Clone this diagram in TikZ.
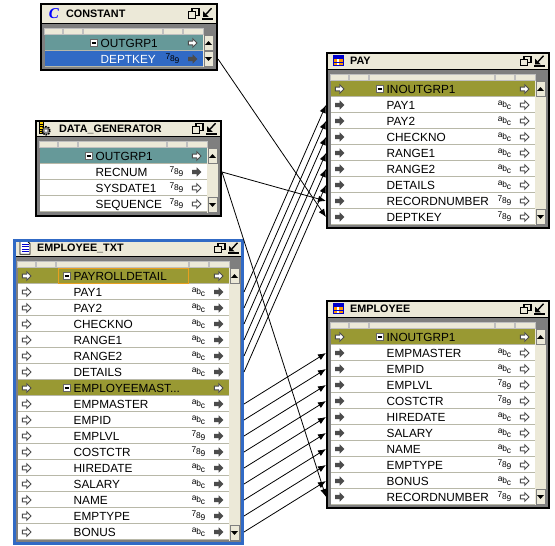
\documentclass[tikz,border=0pt]{standalone}
\usepackage{fontspec}
\setmainfont{Liberation Sans}
\newfontfamily\iconfont{Liberation Serif}
\usetikzlibrary{arrows.meta}
\definecolor{barbeige}{HTML}{ECE9D8}
\definecolor{framegrey}{HTML}{7F7F7F}
\definecolor{sepgrey}{HTML}{B8B8A8}
\definecolor{selblue}{HTML}{316AC5}
\definecolor{focusamber}{HTML}{E8A020}
\definecolor{rowplain}{HTML}{FFFFFF}
\definecolor{rowteal}{HTML}{669999}
\definecolor{rowolive}{HTML}{999933}
\definecolor{rowsel}{HTML}{316AC5}
\colorlet{txtplain}{black}
\colorlet{txtteal}{black}
\colorlet{txtolive}{black}
\colorlet{txtsel}{white}
\newcommand{\tagno}{}
\newcommand{\tagstr}{\raisebox{2pt}{a}\kern-.2pt b\kern-.1pt\raisebox{-2pt}{c}}
\newcommand{\tagnum}{\raisebox{2pt}{7}\kern-.2pt 8\kern-.1pt\raisebox{-2pt}{9}}
\newcommand{\empgroup}{EMPLOYEEMAST...}
\newcommand{\titlepad}{24}
\newcommand{\markglyph}{
    \filldraw[fill=white, draw=black!60, line width=.7pt] (-3.5,-3.5) rectangle (3.5,3.5);
    \draw[line width=1.1pt] (-2,0) -- (2,0);}
\tikzset{
  panelbox/.style={fill=framegrey, inner sep=0pt, outer sep=0pt},
  rowbox/.style={inner sep=0pt, outer sep=0pt, minimum height=16pt},
  rowline/.style={draw=sepgrey, line width=1pt},
  rowtext/.style={anchor=base west, inner sep=0pt, font=\fontsize{11.8}{12}\selectfont},
  titletext/.style={anchor=base west, inner sep=0pt, font=\bfseries\fontsize{10.8}{12}\selectfont},
  typetag/.style={inner sep=0pt, font=\fontsize{8.4}{9}\selectfont},
  scrollbtn/.style={fill=barbeige, draw=framegrey, line width=.6pt},
  link/.style={-{Latex[length=8pt,width=6.5pt]}, line width=.8pt},
  focusbox/.style={draw=focusamber, line width=1pt, inner sep=0pt, minimum width=130pt, minimum height=15pt},
  pics/arrowno/.style={code={}},
  pics/arrowopen/.style={code={
    \filldraw[fill=white, draw=black!70, line width=.9pt] (-4.2,-1.9) -- (.2,-1.9) -- (.2,-4.4) -- (4.6,0) -- (.2,4.4) -- (.2,1.9) -- (-4.2,1.9) -- cycle;}},
  pics/arrowsolid/.style={code={
    \fill[black!70] (-4.4,-2.2) -- (.2,-2.2) -- (.2,-4.6) -- (4.8,0) -- (.2,4.6) -- (.2,2.2) -- (-4.4,2.2) -- cycle;}},
  pics/markplain/.style={code={}},
  pics/marksel/.style={code={}},
  pics/markolive/.style={code={\markglyph}},
  pics/markteal/.style={code={\markglyph}},
  pics/scrollup/.style={code={\fill (-3.5,1.8) -- (3.5,1.8) -- (0,-1.8) -- cycle;}},
  pics/scrolldown/.style={code={\fill (-3.5,-1.8) -- (3.5,-1.8) -- (0,1.8) -- cycle;}},
  pics/winbuttons/.style={code={
    \draw[line width=1.1pt] (-26,-4.5) rectangle (-19,2);
    \filldraw[fill=barbeige, line width=1.1pt] (-29.5,-1.5) rectangle (-22.5,5);
    \draw[line width=1.6pt] (-16,5.5) -- (-5.5,5.5);
    \draw[line width=1.4pt] (-6.5,-5) -- (-12,1);
    \fill (-15,3.5) -- (-15,-2) -- (-9.5,3.5) -- cycle;}},
  pics/iconconst/.style={code={
    \node[inner sep=0pt, text=blue, font=\iconfont\itshape\bfseries\fontsize{15}{15}\selectfont] (constglyph) at (2,0) {C};}},
  pics/icontable/.style={code={
    \fill[blue!80!black] (-5.5,-5.5) rectangle (5.5,5.5);
    \fill[orange!80!yellow] (-4.5,-2) rectangle (4.5,4.5);
    \fill[white] (-1,-2) rectangle (1,4.5);
    \draw[blue!80!black, line width=.6pt] (-4.5,1.2) -- (4.5,1.2);}},
  pics/icondoc/.style={code={
    \filldraw[fill=white, draw=black, line width=.8pt] (-5,-7) -- (2,-7) -- (5,-4) -- (5,6.5) -- (-5,6.5) -- cycle;
    \foreach \ly in {-3.5,-1,1.5,4} {\draw[blue!80!black, line width=1pt] (-3.5,\ly) -- (3.5,\ly);}}},
  pics/icongen/.style={code={
    \filldraw[fill=yellow!70!orange, draw=black, line width=.7pt] (-8,-7) rectangle (-4,5);
    \foreach \ly in {-4.5,-2,.5,3} {\draw[line width=.5pt] (-8,\ly) -- (-4,\ly);}
    \filldraw[fill=black!45, draw=black, line width=1.6pt, dash pattern=on 1.5pt off 1pt] (-1,2.5) circle (4);
    \fill[white] (-1,2.5) circle (1.3);}},
}
% panel: id, title, icon, x1, y1, x2, y2, top of rows, rows
\newcommand{\panel}[9]{
  \pgfmathsetmacro\pw{#6-#4}
  \pgfmathsetmacro\ph{#7-#5}
  \pgfmathsetmacro\xl{#4+4.5}
  \pgfmathsetmacro\xr{#6-15}
  \pgfmathsetmacro\xm{(#4+#6)/2}
  \pgfmathsetmacro\ty{#8-11.5}
  \pgfmathsetmacro\cw{\xr-\xl}
  \pgfmathsetmacro\cwa{\cw-41}
  \pgfmathsetmacro\cwb{\cw-40}
  \pgfmathsetmacro\cwc{\cw-21}
  \pgfmathsetmacro\cwd{\cw-20}
  \node[panelbox, minimum width=\pw pt, minimum height=\ph pt] (#1) at (\xm,{(#5+#7)/2}) {};
  \foreach \txt/\kind/\typ/\lft/\rgt [count=\rownum] in {#9} {
    \pgfmathsetmacro\yt{#8+16*(\rownum-1)}
    \pgfmathsetmacro\yc{\yt+8}
    \node[rowbox, fill=row\kind, minimum width=\pw pt] (#1-\rownum) at (\xm,\yc) {};
    \draw[rowline] (\xl,\yt+15.5) -- (\xr,\yt+15.5);
    \node[rowtext, text=txt\kind] (#1-\rownum-name) at (\xl+56,\yc+4.2) {\txt};
    \node[typetag] (#1-\rownum-type) at (\xr-30.5,\yc) {\csname tag\typ\endcsname};
    \pic at (\xl+9,\yc) {arrow\lft};
    \pic at (\xr-10.5,\yc) {arrow\rgt};
    \pic at (\xl+49,\yc) {mark\kind};
  }
  \fill[barbeige] (\xr,#8) rectangle (#6-4,#7-4);
  \draw[scrollbtn] (\xr+1,#8+.5) rectangle (#6-4.5,#8+15.5);
  \draw[scrollbtn] (\xr+1,#7-19.5) rectangle (#6-4.5,#7-4.5);
  \pic at ({(\xr+#6-4)/2},#8+8) {scrollup};
  \pic at ({(\xr+#6-4)/2},#7-12) {scrolldown};
  \draw[framegrey, line width=2.5pt] (#4+3.25,\ty) rectangle (#6-3.25,#7-3.25);
  \foreach \ca/\cb in {0/18,19/38,39/\cwa,\cwb/\cwc,\cwd/\cw} {
    \filldraw[fill=barbeige, draw=black!25, line width=.4pt] (\xl+\ca,#8-7) rectangle (\xl+\cb,#8-1);
  }
  \fill[barbeige] (#4,#5) rectangle (#6,\ty);
  \draw[line width=1pt] (#4,\ty) -- (#6,\ty);
  \draw[line width=2.2pt] (#4+1.1,#5+1.1) rectangle (#6-1.1,#7-1.1);
  \node[titletext] (#1-title) at (#4+\titlepad,{(#5+\ty)/2+4}) {#2};
  \pic at (#4+12,{(#5+\ty)/2}) {icon#3};
  \pic at (#6,{(#5+\ty)/2}) {winbuttons};
}
\begin{document}
\begin{tikzpicture}[x=1pt,y=-1pt]
    \useasboundingbox[fill=white] (0,0) rectangle (555,546);

    {\renewcommand{\titlepad}{26}
    \panel{const}{CONSTANT}{const}{40}{3}{218}{71}{35}{
      OUTGRP1/teal/no/no/open,
      DEPTKEY/sel/num/no/solid}}

    \panel{gen}{DATA\_GENERATOR}{gen}{35}{120}{222}{217}{148}{
      OUTGRP1/teal/no/no/open,
      RECNUM/plain/num/no/solid,
      SYSDATE1/plain/num/no/open,
      SEQUENCE/plain/num/no/open}

    \panel{txt}{EMPLOYEE\_TXT}{doc}{13}{239}{244}{545}{268}{
      PAYROLLDETAIL/olive/no/open/open,
      PAY1/plain/str/open/solid,
      PAY2/plain/str/open/solid,
      CHECKNO/plain/str/open/solid,
      RANGE1/plain/str/open/solid,
      RANGE2/plain/str/open/solid,
      DETAILS/plain/str/open/solid,
      \empgroup/olive/no/open/open,
      EMPMASTER/plain/str/open/solid,
      EMPID/plain/str/open/solid,
      EMPLVL/plain/num/open/solid,
      COSTCTR/plain/num/open/solid,
      HIREDATE/plain/str/open/solid,
      SALARY/plain/str/open/solid,
      NAME/plain/str/open/solid,
      EMPTYPE/plain/num/open/solid,
      BONUS/plain/str/open/solid}

    \panel{pay}{PAY}{table}{326}{52}{550}{229}{81}{
      INOUTGRP1/olive/no/open/open,
      PAY1/plain/str/solid/open,
      PAY2/plain/str/solid/open,
      CHECKNO/plain/str/solid/open,
      RANGE1/plain/str/solid/open,
      RANGE2/plain/str/solid/open,
      DETAILS/plain/str/solid/open,
      RECORDNUMBER/plain/num/solid/open,
      DEPTKEY/plain/num/solid/open}

    \panel{emp}{EMPLOYEE}{table}{326}{300}{550}{509}{329}{
      INOUTGRP1/olive/no/open/open,
      EMPMASTER/plain/str/solid/open,
      EMPID/plain/str/solid/open,
      EMPLVL/plain/num/solid/open,
      COSTCTR/plain/num/solid/open,
      HIREDATE/plain/str/solid/open,
      SALARY/plain/str/solid/open,
      NAME/plain/str/solid/open,
      EMPTYPE/plain/num/solid/open,
      BONUS/plain/str/solid/open,
      RECORDNUMBER/plain/num/solid/open}

    \draw[draw=selblue, line width=3pt] ([xshift=1.5pt,yshift=-1.5pt]txt.north west) rectangle ([xshift=-1.5pt,yshift=1.5pt]txt.south east);
    \node[focusbox] (focus) at (123,276) {};

    \draw[link] (const-2.east) -- (pay-9.west);
    \draw[link] (gen-2.east) -- (pay-8.west);
    \draw[link] (gen-2.east) -- (emp-11.west);
    \foreach \k in {2,...,7}
        \draw[link] (txt-\k.east) -- (pay-\k.west);
    \foreach \k [evaluate=\k as \m using int(\k-7)] in {9,...,17}
        \draw[link] (txt-\k.east) -- (emp-\m.west);

\end{tikzpicture}
\end{document}
